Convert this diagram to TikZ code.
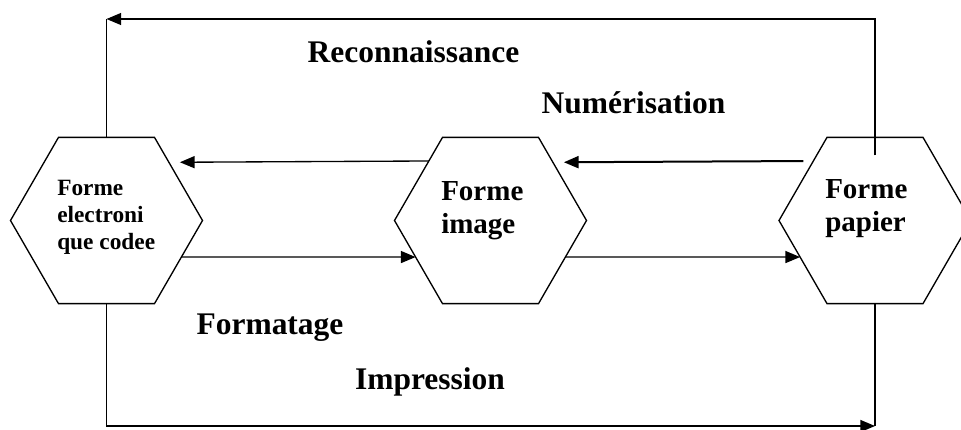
\documentclass[tikz,border=0pt]{standalone}
\usepackage{fontspec}
\setmainfont{Liberation Serif}
\usetikzlibrary{shapes.geometric,arrows.meta}
\begin{document}
\begin{tikzpicture}[x=0.75pt,y=-0.75pt,
  hexa/.style={draw,line width=1pt,regular polygon,regular polygon sides=6,
    minimum size=144pt,inner sep=0pt,outer sep=0pt},
  hextext/.style={font=\bfseries\fontsize{21.75}{24.75}\selectfont,align=left,
    inner sep=0pt,anchor=base west},
  lbl/.style={font=\bfseries\fontsize{23.6}{26}\selectfont,inner sep=0pt,anchor=base},
  arr/.style={line width=1pt,-{Triangle[length=11pt,width=9pt]}},
  plain/.style={line width=1pt}]
\useasboundingbox (0,0) rectangle (961,429);

% the three forms
\node[hexa] (el) at (106.5,220.5) {};
\node[hexa] (im) at (490.5,220.5) {};
\node[hexa] (pa) at (875,220.5) {};

% texts inside the forms (placed by the baseline of their last line)
\node[hextext,font=\bfseries\fontsize{17.5}{20.25}\selectfont] (elt) at (57,249)
  {Forme\\electroni\\que codee};
\node[hextext] (imt) at (441,233) {Forme\\image};
\node[hextext] (pat) at (825,231) {Forme\\papier};

% transitions between neighbouring forms
\draw[arr,shorten >=8.25pt] (im.136.75) -- (el.43.25);
\draw[arr] (el.-26) -- (im.206);
\draw[arr] (im.-26) -- (pa.206);
\draw[arr,line width=1.5pt,shorten <=7.5pt,shorten >=8.25pt] (pa.136.75) -- (im.43.25);

% outer loops
\coordinate (tl) at (el.north |- 0,19);
\coordinate (tr) at (pa.north |- 0,19);
\coordinate (bl) at (el.south |- 0,426);
\coordinate (br) at (pa.south |- 0,426);
\draw[arr] ([yshift=-13.5pt]pa.north) -- (tr) -- (tl);
\draw[plain] (tl) -- (el.north);
\draw[arr] (el.south) -- (bl) -- (br);
\draw[plain] (br) -- (pa.south);

% labels
\node[lbl] (rec) at (413.5,62) {Reconnaissance};
\node[lbl] (num) at (633.5,113) {Numérisation};
\node[lbl] (fmt) at (270,334) {Formatage};
\node[lbl] (imp) at (430,389) {Impression};
\end{tikzpicture}
\end{document}
